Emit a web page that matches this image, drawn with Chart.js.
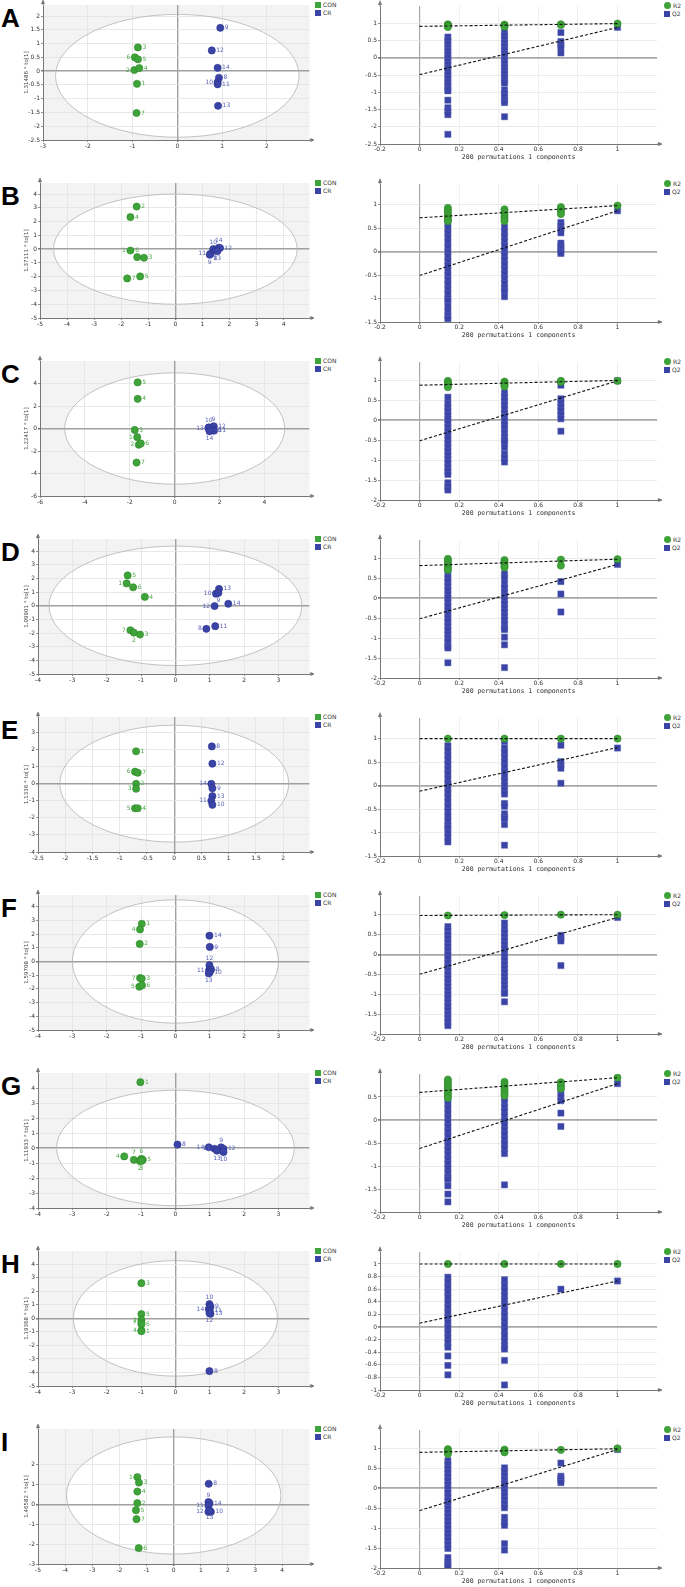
<!DOCTYPE html>
<html>
<head>
<meta charset="utf-8">
<script src="https://cdn.jsdelivr.net/npm/chart.js@4.4.1/dist/chart.umd.min.js"></script>
<style>
  body { margin: 0; width: 685px; height: 1587px; position: relative; overflow: hidden; background: #fff; font-family: "Liberation Sans", Arial, sans-serif; }
  .row { position: absolute; left: 0; width: 685px; height: 178px; }
  .letter { position: absolute; left: 1px; top: 5px; font-size: 26px; line-height: 26px; font-weight: bold; color: #000; }
  .score { position: absolute; left: 20px; top: 0; }
  .perm { position: absolute; left: 350px; top: 0; }
  .leg { position: absolute; font-family: "DejaVu Sans", sans-serif; font-size: 6px; line-height: 8px; color: #333; white-space: nowrap; }
  .leg i { display: inline-block; width: 6px; height: 6px; margin-right: 2px; vertical-align: -1px; }
  .leg i.g { background: #3ea338; }
  .leg i.b { background: #3a44a6; }
  .leg i.c { border-radius: 50%; width: 7px; height: 7px; }
</style>
</head>
<body>
<script>
// x positions of the permutation columns (correlation with original Y)
const permX = [0.143, 0.429, 0.714, 1];
const permXTicks = [-0.2, 0, 0.2, 0.4, 0.6, 0.8, 1];
const permTitle = "200 permutations 1 components";

// ---- A ----
const A_con = [[-0.88, 0.86], [-0.95, 0.5], [-0.88, 0.43], [-0.96, 0.04], [-0.85, 0.11], [-0.9, -0.46], [-0.91, -1.52]];
const A_conIds = ["3", "6", "5", "2", "4", "1", "7"];
const A_cr = [[0.96, 1.57], [0.77, 0.75], [0.9, 0.12], [0.93, -0.24], [0.9, -0.4], [0.9, -0.48], [0.91, -1.26]];
const A_crIds = ["9", "12", "14", "8", "10", "11", "13"];
const A_xRange = [-3, 2.95], A_yRange = [-2.5, 2.4];
const A_xTicks = [-3, -2, -1, 0, 1, 2];
const A_yTicks = [-2.5, -2, -1.5, -1, -0.5, 0, 0.5, 1, 1.5, 2];
const A_ellipse = [0, -0.17, 2.72, 2.23];
const A_title = "1.31486 * to[1]";
const A_r2 = [[0.97, 0.95, 0.93, 0.91, 0.89], [0.96, 0.94, 0.92, 0.9], [0.97, 0.95], [0.99]];
const A_q2 = [
  [0.6, 0.5, 0.4, 0.3, 0.2, 0.1, 0, -0.1, -0.2, -0.3, -0.4, -0.5, -0.6, -0.7, -0.8, -0.9, -0.96, -1.23, -1.45, -1.55, -1.65, -2.22],
  [0.73, 0.63, 0.53, 0.43, 0.33, 0.23, 0.13, 0.03, -0.07, -0.17, -0.27, -0.37, -0.47, -0.57, -0.67, -0.73, -0.93, -1.03, -1.13, -1.23, -1.3, -1.71],
  [0.73, 0.47, 0.38, 0.3, 0.14],
  [0.88]
];
const A_r2Line = [0.91, 0.99], A_q2Line = [-0.49, 0.88];
const A_permRange = [-2.5, 1.5];
const A_permTicks = [-2.5, -2, -1.5, -1, -0.5, 0, 0.5, 1];

// ---- B ----
const B_con = [[-1.43, 3.09], [-1.66, 2.33], [-1.66, -0.1], [-1.41, -0.58], [-1.16, -0.63], [-1.78, -2.13], [-1.3, -1.98]];
const B_conIds = ["2", "4", "1", "6", "3", "7", "5"];
const B_cr = [[1.4, 0.0], [1.6, 0.1], [1.65, 0.08], [1.3, -0.34], [1.27, -0.4], [1.48, -0.1], [1.55, -0.15]];
const B_crIds = ["10", "14", "12", "11", "9", "8", "13"];
const B_xRange = [-5, 4.95], B_yRange = [-5, 4.8];
const B_xTicks = [-5, -4, -3, -2, -1, 0, 1, 2, 3, 4];
const B_yTicks = [-5, -4, -3, -2, -1, 0, 1, 2, 3, 4];
const B_ellipse = [0, 0, 4.5, 4.0];
const B_title = "1.37111 * to[1]";
const B_r2 = [[0.93, 0.88, 0.83, 0.78, 0.73, 0.68, 0.65], [0.9, 0.85, 0.8, 0.75, 0.7, 0.65], [0.95, 0.9, 0.85, 0.8], [0.98]];
const B_q2 = [
  [0.6, 0.5, 0.4, 0.3, 0.2, 0.1, 0, -0.1, -0.2, -0.3, -0.4, -0.5, -0.6, -0.7, -0.8, -0.9, -1.0, -1.05, -1.17, -1.27, -1.37, -1.43],
  [0.52, 0.42, 0.32, 0.22, 0.12, 0.02, -0.08, -0.18, -0.28, -0.38, -0.48, -0.58, -0.68, -0.78, -0.84, -0.96],
  [0.62, 0.55, 0.48, 0.4, 0.18, 0.12, 0.06, 0, -0.04],
  [0.87]
];
const B_r2Line = [0.72, 0.98], B_q2Line = [-0.51, 0.87];
const B_permRange = [-1.5, 1.44];
const B_permTicks = [-1.5, -1, -0.5, 0, 0.5, 1];

// ---- C ----
const C_con = [[-1.65, 4.1], [-1.65, 2.64], [-1.78, -0.13], [-1.67, -0.77], [-1.6, -1.45], [-1.51, -1.33], [-1.7, -3.03]];
const C_conIds = ["5", "4", "3", "1", "2", "6", "7"];
const C_cr = [[1.52, 0.1], [1.72, 0.15], [1.74, 0.2], [1.5, 0.05], [1.7, -0.15], [1.75, -0.2], [1.55, -0.25]];
const C_crIds = ["10", "9", "12", "13", "8", "11", "14"];
const C_xRange = [-6, 6], C_yRange = [-6, 6];
const C_xTicks = [-6, -4, -2, 0, 2, 4];
const C_yTicks = [-6, -4, -2, 0, 2, 4];
const C_ellipse = [0, 0, 4.9, 4.95];
const C_title = "1.22417 * to[1]";
const C_r2 = [[0.98, 0.94, 0.9, 0.86, 0.82], [0.96, 0.93, 0.9, 0.87, 0.84], [0.98, 0.95], [0.98]];
const C_q2 = [
  [0.57, 0.42, 0.32, 0.22, 0.12, 0.02, -0.08, -0.18, -0.28, -0.38, -0.48, -0.58, -0.68, -0.78, -0.88, -0.98, -1.08, -1.18, -1.28, -1.36, -1.57, -1.67, -1.75],
  [0.68, 0.58, 0.48, 0.38, 0.28, 0.18, 0.08, -0.02, -0.12, -0.2, -0.32, -0.42, -0.5, -0.56, -0.69, -0.85, -0.95, -1.05],
  [0.87, 0.53, 0.43, 0.33, 0.23, 0.13, 0.03, -0.28],
  [0.98]
];
const C_r2Line = [0.87, 0.99], C_q2Line = [-0.52, 0.98];
const C_permRange = [-2, 1.45];
const C_permTicks = [-2, -1.5, -1, -0.5, 0, 0.5, 1];

// ---- D ----
const D_con = [[-1.39, 2.23], [-1.42, 1.64], [-1.23, 1.36], [-0.89, 0.65], [-1.31, -1.79], [-1.21, -1.96], [-1.03, -2.11]];
const D_conIds = ["5", "1", "6", "4", "7", "2", "3"];
const D_cr = [[1.27, 1.24], [1.18, 0.89], [1.25, 0.94], [1.54, 0.15], [1.14, -0.02], [1.16, -1.49], [0.9, -1.69]];
const D_crIds = ["13", "10", "9", "14", "12", "11", "8"];
const D_xRange = [-4, 3.9], D_yRange = [-5, 4.9];
const D_xTicks = [-4, -3, -2, -1, 0, 1, 2, 3];
const D_yTicks = [-5, -4, -3, -2, -1, 0, 1, 2, 3, 4];
const D_ellipse = [0, 0, 3.68, 4.38];
const D_title = "1.09901 * to[1]";
const D_r2 = [[0.98, 0.93, 0.88, 0.83, 0.78, 0.73, 0.7], [0.95, 0.9, 0.85, 0.8, 0.76], [0.96, 0.81], [0.97]];
const D_q2 = [
  [0.6, 0.5, 0.4, 0.3, 0.2, 0.1, 0, -0.1, -0.2, -0.3, -0.4, -0.5, -0.6, -0.7, -0.8, -0.9, -1.0, -1.1, -1.2, -1.25, -1.62],
  [0.6, 0.5, 0.35, 0.25, 0.15, 0.05, -0.05, -0.15, -0.25, -0.35, -0.45, -0.55, -0.65, -0.75, -0.79, -0.98, -1.17, -1.74],
  [0.41, 0.1, -0.35],
  [0.84]
];
const D_r2Line = [0.81, 0.97], D_q2Line = [-0.52, 0.84];
const D_permRange = [-2, 1.45];
const D_permTicks = [-2, -1.5, -1, -0.5, 0, 0.5, 1];

// ---- E ----
const E_con = [[-0.7, 1.89], [-0.72, 0.7], [-0.67, 0.64], [-0.7, -0.01], [-0.7, -0.3], [-0.72, -1.44], [-0.67, -1.44]];
const E_conIds = ["1", "6", "7", "2", "3", "5", "4"];
const E_cr = [[0.69, 2.18], [0.7, 1.17], [0.68, -0.01], [0.7, -0.27], [0.7, -0.73], [0.68, -1.0], [0.7, -1.24]];
const E_crIds = ["8", "12", "14", "9", "13", "11", "10"];
const E_xRange = [-2.5, 2.48], E_yRange = [-4, 3.9];
const E_xTicks = [-2.5, -2, -1.5, -1, -0.5, 0, 0.5, 1, 1.5, 2];
const E_yTicks = [-4, -3, -2, -1, 0, 1, 2, 3];
const E_ellipse = [0, 0, 2.1, 3.42];
const E_title = "1.1336 * to[1]";
const E_r2 = [[1], [1], [1], [1]];
const E_q2 = [
  [0.85, 0.75, 0.65, 0.55, 0.45, 0.35, 0.25, 0.15, 0.05, -0.05, -0.15, -0.25, -0.35, -0.45, -0.55, -0.65, -0.75, -0.85, -0.9, -1.0, -1.1, -1.2],
  [0.94, 0.8, 0.7, 0.6, 0.5, 0.4, 0.3, 0.2, 0.1, 0, -0.1, -0.18, -0.38, -0.44, -0.6, -0.67, -0.7, -0.83, -1.27],
  [0.86, 0.51, 0.44, 0.37, 0.05],
  [0.8]
];
const E_r2Line = [1, 1], E_q2Line = [-0.12, 0.81];
const E_permRange = [-1.5, 1.44];
const E_permTicks = [-1.5, -1, -0.5, 0, 0.5, 1];

// ---- F ----
const F_con = [[-0.98, 2.75], [-1.03, 2.34], [-1.04, 1.28], [-1.03, -1.21], [-0.98, -1.25], [-1.05, -1.84], [-0.97, -1.74]];
const F_conIds = ["1", "4", "2", "7", "3", "5", "6"];
const F_cr = [[0.99, 1.88], [1.0, 1.06], [0.99, -0.27], [0.98, -0.64], [1.04, -0.58], [1.0, -0.78], [0.97, -0.87]];
const F_crIds = ["14", "9", "12", "11", "8", "10", "13"];
const F_xRange = [-4, 3.9], F_yRange = [-5, 4.85];
const F_xTicks = [-4, -3, -2, -1, 0, 1, 2, 3];
const F_yTicks = [-5, -4, -3, -2, -1, 0, 1, 2, 3, 4];
const F_ellipse = [0, 0, 3.0, 4.5];
const F_title = "1.59708 * to[1]";
const F_r2 = [[0.98], [0.99], [1], [1]];
const F_q2 = [
  [0.7, 0.6, 0.5, 0.4, 0.3, 0.2, 0.1, 0, -0.1, -0.2, -0.3, -0.4, -0.5, -0.6, -0.7, -0.8, -0.9, -1.0, -1.1, -1.2, -1.3, -1.4, -1.5, -1.6, -1.7, -1.79],
  [0.79, 0.65, 0.55, 0.45, 0.35, 0.25, 0.15, 0.05, -0.05, -0.15, -0.25, -0.35, -0.45, -0.55, -0.65, -0.75, -0.85, -0.95, -0.98, -1.19],
  [0.48, 0.41, 0.34, -0.28],
  [0.93]
];
const F_r2Line = [0.98, 1.0], F_q2Line = [-0.5, 0.93];
const F_permRange = [-2, 1.47];
const F_permTicks = [-2, -1.5, -1, -0.5, 0, 0.5, 1];

// ---- G ----
const G_con = [[-1.02, 4.39], [-1.49, -0.56], [-1.21, -0.79], [-0.99, -0.72], [-0.95, -0.79], [-1.04, -0.86], [-0.99, -0.86]];
const G_conIds = ["1", "4", "7", "6", "5", "2", "3"];
const G_cr = [[0.06, 0.23], [0.97, 0.05], [1.33, 0.05], [1.4, -0.05], [1.14, -0.05], [1.21, -0.18], [1.4, -0.27]];
const G_crIds = ["8", "14", "9", "12", "11", "13", "10"];
const G_xRange = [-4, 3.9], G_yRange = [-4, 5.0];
const G_xTicks = [-4, -3, -2, -1, 0, 1, 2, 3];
const G_yTicks = [-4, -3, -2, -1, 0, 1, 2, 3, 4];
const G_ellipse = [0, 0, 3.46, 3.85];
const G_title = "1.11933 * to[1]";
const G_r2 = [[0.88, 0.83, 0.78, 0.73, 0.68, 0.63, 0.58, 0.53, 0.48], [0.83, 0.78, 0.73, 0.68, 0.63, 0.58, 0.53], [0.82, 0.75, 0.68], [0.92]];
const G_q2 = [
  [0.45, 0.35, 0.25, 0.15, 0.05, -0.05, -0.15, -0.25, -0.35, -0.45, -0.55, -0.65, -0.75, -0.85, -0.95, -1.05, -1.15, -1.25, -1.29, -1.43, -1.61, -1.78],
  [0.48, 0.38, 0.28, 0.18, 0.08, -0.02, -0.12, -0.22, -0.32, -0.42, -0.52, -0.62, -0.73, -1.41],
  [0.79, 0.7, 0.6, 0.5, 0.42, 0.15, -0.14],
  [0.79]
];
const G_r2Line = [0.6, 0.92], G_q2Line = [-0.62, 0.79];
const G_permRange = [-2, 1.0];
const G_permTicks = [-2, -1.5, -1, -0.5, 0, 0.5];

// ---- H ----
const H_con = [[-0.99, 2.6], [-0.99, 0.32], [-0.99, -0.12], [-0.99, -0.3], [-0.99, -0.45], [-0.99, -0.9], [-0.99, -0.95]];
const H_conIds = ["3", "5", "2", "7", "6", "4", "1"];
const H_cr = [[0.99, 1.05], [1.02, 0.88], [0.97, 0.69], [1.0, 0.55], [1.02, 0.34], [0.99, 0.39], [0.99, -3.9]];
const H_crIds = ["10", "9", "14", "11", "13", "12", "8"];
const H_xRange = [-4, 3.9], H_yRange = [-5, 4.98];
const H_xTicks = [-4, -3, -2, -1, 0, 1, 2, 3];
const H_yTicks = [-5, -4, -3, -2, -1, 0, 1, 2, 3, 4];
const H_ellipse = [0, 0, 2.97, 4.27];
const H_title = "1.19368 * to[1]";
const H_r2 = [[1], [1], [1], [1]];
const H_q2 = [
  [0.79, 0.71, 0.63, 0.55, 0.47, 0.39, 0.31, 0.23, 0.15, 0.07, -0.01, -0.09, -0.17, -0.25, -0.32, -0.46, -0.61, -0.76],
  [0.75, 0.66, 0.58, 0.5, 0.42, 0.34, 0.26, 0.18, 0.1, 0.02, -0.06, -0.14, -0.22, -0.3, -0.35, -0.53, -0.92],
  [0.6],
  [0.73]
];
const H_r2Line = [1, 1], H_q2Line = [0.06, 0.73];
const H_permRange = [-1, 1.19];
const H_permTicks = [-1, -0.8, -0.6, -0.4, -0.2, 0, 0.2, 0.4, 0.6, 0.8, 1];

// ---- I ----
const I_con = [[-1.34, 1.38], [-1.28, 1.1], [-1.34, 0.65], [-1.34, 0.07], [-1.39, -0.29], [-1.37, -0.74], [-1.29, -2.2]];
const I_conIds = ["1", "3", "4", "2", "5", "7", "6"];
const I_cr = [[1.29, 1.04], [1.28, 0.12], [1.32, 0.07], [1.28, -0.07], [1.28, -0.37], [1.37, -0.37], [1.32, -0.3]];
const I_crIds = ["8", "9", "14", "11", "12", "10", "13"];
const I_xRange = [-5, 5], I_yRange = [-3, 3.8];
const I_xTicks = [-5, -4, -3, -2, -1, 0, 1, 2, 3, 4];
const I_yTicks = [-3, -2, -1, 0, 1, 2];
const I_ellipse = [0, 0.45, 3.95, 2.95];
const I_title = "1.46582 * to[1]";
const I_r2 = [[0.98, 0.94, 0.9, 0.86], [0.97, 0.93, 0.9], [0.96], [1.0]];
const I_q2 = [
  [0.69, 0.59, 0.49, 0.39, 0.29, 0.19, 0.09, -0.01, -0.11, -0.21, -0.31, -0.41, -0.51, -0.61, -0.71, -0.81, -0.91, -1.01, -1.11, -1.21, -1.31, -1.41, -1.51, -1.74, -1.84, -1.92, -1.98],
  [0.51, 0.41, 0.31, 0.21, 0.11, 0.01, -0.09, -0.19, -0.29, -0.39, -0.49, -0.73, -0.85, -0.93, -1.39, -1.55],
  [0.63, 0.3, 0.25, 0.2, 0.14],
  [0.97]
];
const I_r2Line = [0.9, 0.99], I_q2Line = [-0.56, 0.97];
const I_permRange = [-2, 1.46];
const I_permTicks = [-2, -1.5, -1, -0.5, 0, 0.5, 1];

// label side for each point id (r = right, l = left, t = above, b = below)
const labelSide = {
  A: ["rlrlrrr", "rrrrlrr"], B: ["rrltrrr", "ttrlbbb"], C: ["rrrllrr", "ttrlrrb"],
  D: ["rlrrlbr", "rlbrlrl"], E: ["rlrrllr", "rrlrrlr"], F: ["rlrlrlr", "rrtlrrb"],
  G: ["rlttrbb", "rltrlbb"], H: ["rrllrlr", "trlrrbr"], I: ["lrrrrrr", "rtrllrb"]
};
// y-axis position of each score plot
const axisLeft = { A: 43, B: 40, C: 40, D: 38, E: 38, F: 38, G: 38, H: 38, I: 38 };

const panels = [
  ["A", A_con, A_conIds, A_cr, A_crIds, A_xRange, A_yRange, A_xTicks, A_yTicks, A_ellipse, A_title, A_r2, A_q2, A_r2Line, A_q2Line, A_permRange, A_permTicks],
  ["B", B_con, B_conIds, B_cr, B_crIds, B_xRange, B_yRange, B_xTicks, B_yTicks, B_ellipse, B_title, B_r2, B_q2, B_r2Line, B_q2Line, B_permRange, B_permTicks],
  ["C", C_con, C_conIds, C_cr, C_crIds, C_xRange, C_yRange, C_xTicks, C_yTicks, C_ellipse, C_title, C_r2, C_q2, C_r2Line, C_q2Line, C_permRange, C_permTicks],
  ["D", D_con, D_conIds, D_cr, D_crIds, D_xRange, D_yRange, D_xTicks, D_yTicks, D_ellipse, D_title, D_r2, D_q2, D_r2Line, D_q2Line, D_permRange, D_permTicks],
  ["E", E_con, E_conIds, E_cr, E_crIds, E_xRange, E_yRange, E_xTicks, E_yTicks, E_ellipse, E_title, E_r2, E_q2, E_r2Line, E_q2Line, E_permRange, E_permTicks],
  ["F", F_con, F_conIds, F_cr, F_crIds, F_xRange, F_yRange, F_xTicks, F_yTicks, F_ellipse, F_title, F_r2, F_q2, F_r2Line, F_q2Line, F_permRange, F_permTicks],
  ["G", G_con, G_conIds, G_cr, G_crIds, G_xRange, G_yRange, G_xTicks, G_yTicks, G_ellipse, G_title, G_r2, G_q2, G_r2Line, G_q2Line, G_permRange, G_permTicks],
  ["H", H_con, H_conIds, H_cr, H_crIds, H_xRange, H_yRange, H_xTicks, H_yTicks, H_ellipse, H_title, H_r2, H_q2, H_r2Line, H_q2Line, H_permRange, H_permTicks],
  ["I", I_con, I_conIds, I_cr, I_crIds, I_xRange, I_yRange, I_xTicks, I_yTicks, I_ellipse, I_title, I_r2, I_q2, I_r2Line, I_q2Line, I_permRange, I_permTicks]
];

const GREEN = "#3ea338", GREEN_EDGE = "#2d8a29", BLUE = "#3a44a6", BLUE_EDGE = "#2b338e";
const TICK_FONT = { size: 6, family: "DejaVu Sans" };
const ROW_H = 178;

function pts(arr) {
  return arr.map(([x, y]) => ({ x, y }));
}

function fixedTicks(list) {
  return (scale) => { scale.ticks = list.map((v) => ({ value: v })); };
}

function ellipsePath(chart, e) {
  const { ctx, scales: { x, y } } = chart;
  const cx = x.getPixelForValue(e[0]), cy = y.getPixelForValue(e[1]);
  ctx.beginPath();
  ctx.ellipse(cx, cy, x.getPixelForValue(e[0] + e[2]) - cx, cy - y.getPixelForValue(e[1] + e[3]), 0, 0, Math.PI * 2);
}

const scoreBg = {
  id: "scoreBg",
  beforeDraw(chart, args, opts) {
    const { ctx, chartArea: a } = chart;
    ctx.save();
    ctx.fillStyle = "#f3f3f3";
    ctx.fillRect(a.left, a.top, a.right - a.left, a.bottom - a.top);
    ellipsePath(chart, opts.ellipse);
    ctx.fillStyle = "#fff";
    ctx.fill();
    ctx.restore();
  },
  beforeDatasetsDraw(chart, args, opts) {
    const ctx = chart.ctx;
    ctx.save();
    ellipsePath(chart, opts.ellipse);
    ctx.strokeStyle = "#b4b4b4";
    ctx.lineWidth = 0.8;
    ctx.stroke();
    ctx.restore();
  }
};

const idLabels = {
  id: "idLabels",
  afterDatasetsDraw(chart) {
    const ctx = chart.ctx;
    chart.data.datasets.forEach((ds, di) => {
      if (!ds.ids) return;
      const meta = chart.getDatasetMeta(di);
      ctx.save();
      ctx.font = '6px "DejaVu Sans"';
      ctx.fillStyle = ds.labelColor;
      ctx.textBaseline = "middle";
      meta.data.forEach((pt, i) => {
        const s = ds.side[i] || "r";
        let x = pt.x, y = pt.y;
        if (s === "r") { ctx.textAlign = "left"; x += 4.5; }
        else if (s === "l") { ctx.textAlign = "right"; x -= 4.5; }
        else if (s === "t") { ctx.textAlign = "center"; y -= 7; }
        else { ctx.textAlign = "center"; y += 7.5; }
        ctx.fillText(ds.ids[i], x, y);
      });
      ctx.restore();
    });
  }
};

const arrows = {
  id: "arrows",
  afterDraw(chart) {
    const { ctx, chartArea: a } = chart;
    ctx.save();
    ctx.strokeStyle = "#777";
    ctx.fillStyle = "#777";
    ctx.lineWidth = 1;
    ctx.beginPath();
    ctx.moveTo(a.left, a.top);
    ctx.lineTo(a.left, a.top - 3);
    ctx.moveTo(a.right, a.bottom);
    ctx.lineTo(a.right + 3, a.bottom);
    ctx.stroke();
    ctx.beginPath();
    ctx.moveTo(a.left - 2, a.top - 1);
    ctx.lineTo(a.left + 2, a.top - 1);
    ctx.lineTo(a.left, a.top - 6);
    ctx.closePath();
    ctx.moveTo(a.right + 1, a.bottom - 2);
    ctx.lineTo(a.right + 1, a.bottom + 2);
    ctx.lineTo(a.right + 6, a.bottom);
    ctx.closePath();
    ctx.fill();
    ctx.restore();
  }
};

function axisCommon(min, max, ticks, zeroColor, gridColor, zeroWidth) {
  return {
    type: "linear",
    min: min,
    max: max,
    afterBuildTicks: fixedTicks(ticks),
    grid: {
      color: (c) => (c.tick && c.tick.value === 0 ? zeroColor : gridColor),
      lineWidth: (c) => (c.tick && c.tick.value === 0 ? zeroWidth : 0.8),
      tickLength: 2,
      tickColor: "#777"
    },
    border: { color: "#777", width: 1 },
    ticks: { font: TICK_FONT, color: "#333", padding: 1, maxRotation: 0, autoSkip: false, callback: (v) => String(v) }
  };
}

function renderScore(canvas, p) {
  const [key, con, conIds, cr, crIds, xr, yr, xt, yt, ell, title] = p;
  const xAxis = axisCommon(xr[0], xr[1], xt, "#a0a0a0", "#e2e2e2", 1.4);
  xAxis.afterFit = (s) => { s.height = 12; };
  const yAxis = axisCommon(yr[0], yr[1], yt, "#a0a0a0", "#e2e2e2", 1.4);
  yAxis.afterFit = (s) => { s.width = axisLeft[key] - 20; };
  yAxis.title = { display: true, text: title, font: { size: 5.5, family: "DejaVu Sans" }, color: "#444", padding: { top: 3, bottom: 0 } };

  new Chart(canvas, {
    type: "scatter",
    data: {
      datasets: [
        {
          label: "CON", data: pts(con), ids: conIds, side: labelSide[key][0], labelColor: "#4fa84a",
          backgroundColor: GREEN, borderColor: GREEN_EDGE, borderWidth: 0.6, pointRadius: 3.6
        },
        {
          label: "CR", data: pts(cr), ids: crIds, side: labelSide[key][1], labelColor: "#5862b8",
          backgroundColor: BLUE, borderColor: BLUE_EDGE, borderWidth: 0.6, pointRadius: 3.6
        }
      ]
    },
    options: {
      responsive: false,
      animation: false,
      layout: { padding: { left: 0, right: 4, top: 5, bottom: 26 } },
      plugins: { legend: { display: false }, tooltip: { enabled: false }, scoreBg: { ellipse: ell } },
      scales: { x: xAxis, y: yAxis }
    },
    plugins: [scoreBg, idLabels, arrows]
  });
}

function renderPerm(canvas, p) {
  const [r2, q2, r2Line, q2Line, pr, pt] = p.slice(11);
  const r2Pts = [], q2Pts = [];
  permX.forEach((x, i) => {
    r2[i].forEach((y) => r2Pts.push({ x, y }));
    q2[i].forEach((y) => q2Pts.push({ x, y }));
  });
  const xAxis = axisCommon(-0.2, 1.2, permXTicks, "#a8a8a8", "#ececec", 1.2);
  xAxis.ticks.padding = 0;
  xAxis.afterFit = (s) => { s.height = 17; };
  xAxis.title = { display: true, text: permTitle, font: { size: 6.5, family: "DejaVu Sans Mono" }, color: "#333", padding: 0 };
  const yAxis = axisCommon(pr[0], pr[1], pt, "#a8a8a8", "#e6e6e6", 1.8);
  yAxis.afterFit = (s) => { s.width = 30; };

  const dashed = { showLine: true, borderColor: "#111", borderWidth: 1.1, borderDash: [3, 2], pointRadius: 0, fill: false };
  new Chart(canvas, {
    type: "scatter",
    data: {
      datasets: [
        Object.assign({ label: "R2 line", data: [{ x: 0, y: r2Line[0] }, { x: 1, y: r2Line[1] }] }, dashed),
        Object.assign({ label: "Q2 line", data: [{ x: 0, y: q2Line[0] }, { x: 1, y: q2Line[1] }] }, dashed),
        { label: "R2", data: r2Pts, backgroundColor: GREEN, borderColor: GREEN_EDGE, borderWidth: 0.6, pointRadius: 3.6 },
        { label: "Q2", data: q2Pts, pointStyle: "rect", backgroundColor: BLUE, borderColor: "#5a62b4", borderWidth: 0.5, pointRadius: 4.4 }
      ]
    },
    options: {
      responsive: false,
      animation: false,
      layout: { padding: { left: 0, right: 2, top: 6, bottom: 17 } },
      plugins: { legend: { display: false }, tooltip: { enabled: false } },
      scales: { x: xAxis, y: yAxis }
    },
    plugins: [arrows]
  });
}

function boot() {
  panels.forEach((p, i) => {
    const row = document.createElement("div");
    row.className = "row";
    row.style.top = i * ROW_H + "px";
    row.innerHTML = `
      <div class="letter">${p[0]}</div>
      <canvas class="score" width="294" height="${ROW_H}"></canvas>
      <canvas class="perm" width="312" height="${ROW_H}"></canvas>
      <div class="leg" style="left:315px;top:1px"><i class="g"></i>CON<br><i class="b"></i>CR</div>
      <div class="leg" style="left:664px;top:2px"><i class="g c"></i>R2<br><i class="b"></i>Q2</div>`;
    document.body.appendChild(row);
    renderScore(row.querySelector(".score"), p);
    renderPerm(row.querySelector(".perm"), p);
  });
}

boot();
</script>
</body>
</html>
